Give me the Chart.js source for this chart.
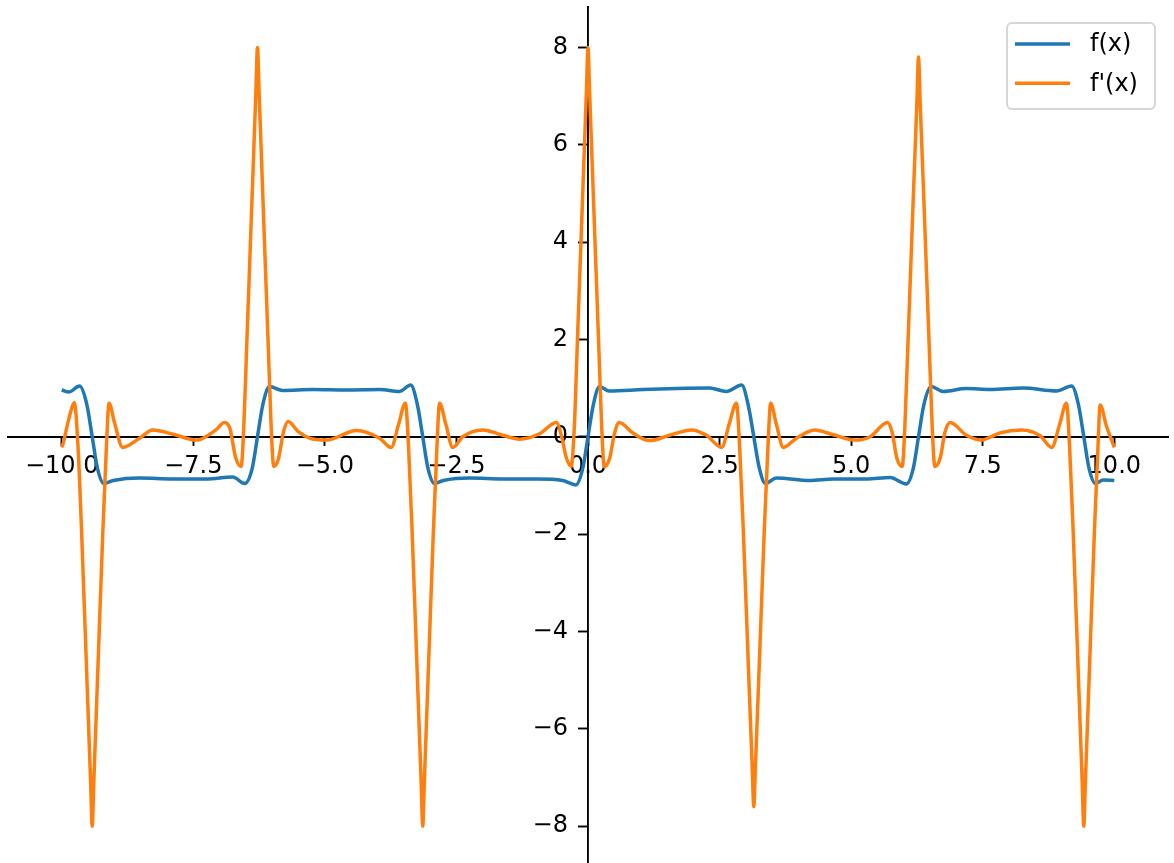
<!DOCTYPE html>
<html>
<head>
<meta charset="utf-8">
<script src="https://cdn.jsdelivr.net/npm/chart.js@4.4.0/dist/chart.umd.min.js"></script>
<style>
  html, body { margin: 0; padding: 0; background: #fff; }
  #wrap { width: 1174px; height: 863px; position: relative; }
</style>
</head>
<body>
<div id="wrap"><canvas id="plot" width="1174" height="863"></canvas></div>
<script>
// f(x)
const fX = [-10.0, -9.86, -9.66, -9.52, -9.42, -9.32, -9.20, -9.02, -8.52, -7.88, -7.25, -6.75,
  -6.52, -6.38, -6.28, -6.18, -6.05, -5.80, -5.23, -4.59, -3.96, -3.58, -3.37, -3.24,
  -3.14, -3.04, -2.92, -2.75, -2.25, -1.61, -0.98, -0.48, -0.23, -0.10, 0.0, 0.10, 0.22, 0.40,
  1.05, 1.68, 2.31, 2.63, 2.92, 3.05, 3.15, 3.25, 3.37, 3.58, 4.21, 4.66, 5.29, 5.74, 6.05,
  6.18, 6.28, 6.38, 6.52, 6.75, 7.19, 7.64, 8.27, 8.90, 9.19, 9.32, 9.42, 9.52, 9.64, 9.79, 10.0];
const fY = [0.96, 0.92, 1.04, 0.65, 0.0, -0.65, -0.96, -0.90, -0.85, -0.87, -0.87, -0.83,
  -0.96, -0.65, 0.0, 0.65, 1.03, 0.95, 0.97, 0.96, 0.97, 0.93, 1.06, 0.65,
  0.0, -0.65, -0.96, -0.90, -0.85, -0.87, -0.87, -0.90, -0.99, -0.65, 0.0, 0.65, 1.03, 0.94,
  0.97, 0.99, 1.0, 0.93, 1.06, 0.62, 0.0, -0.62, -0.96, -0.85, -0.90, -0.87, -0.87, -0.84, -0.97,
  -0.65, 0.0, 0.65, 1.03, 0.93, 0.99, 0.97, 1.0, 0.94, 1.04, 0.65, 0.0, -0.65, -0.96, -0.89, -0.90];

// f'(x)
const dfX = [-10.0, -9.97, -9.88, -9.80, -9.76, -9.69, -9.62, -9.52, -9.45, -9.42, -9.39, -9.32, -9.22,
  -9.15, -9.10, -9.0, -8.84, -8.52, -8.27, -7.88, -7.44, -7.07, -6.91, -6.81, -6.69, -6.59,
  -6.54, -6.48, -6.38, -6.31, -6.28, -6.25, -6.18, -6.08, -6.02, -5.97, -5.88, -5.79, -5.70,
  -5.50, -5.29, -4.97, -4.40, -3.96, -3.74, -3.60, -3.47,
  -3.41, -3.34, -3.24, -3.17, -3.14, -3.11, -3.04, -2.94, -2.87,
  -2.82, -2.70, -2.57, -2.38, -2.0, -1.62, -1.30, -0.92, -0.60, -0.50, -0.42, -0.32,
  -0.26, -0.20, -0.10, -0.03, 0.0, 0.03, 0.10, 0.20, 0.26,
  0.31, 0.41, 0.50, 0.59, 0.86, 1.17, 1.55, 1.97, 2.25, 2.54, 2.68, 2.82,
  2.88, 2.95, 3.05, 3.12, 3.15, 3.18, 3.25, 3.35, 3.42,
  3.47, 3.58, 3.71, 3.96, 4.31, 4.66, 5.07, 5.36, 5.69, 5.78, 5.87, 5.97,
  6.02, 6.08, 6.18, 6.25, 6.28, 6.31, 6.38, 6.48, 6.54,
  6.59, 6.69, 6.78, 6.88, 7.19, 7.48, 7.64, 7.83, 8.24, 8.59, 8.81, 8.96, 9.09,
  9.15, 9.22, 9.32, 9.39, 9.42, 9.45, 9.52, 9.62, 9.69,
  9.73, 9.85, 10.0];
const dfY = [-0.22, -0.13, 0.30, 0.62, 0.70, -0.2, -2.0, -5.0, -7.1, -8.0, -7.1, -5.0, -2.0,
  -0.2, 0.69, 0.30, -0.22, -0.03, 0.14, 0.05, -0.07, 0.14, 0.29, 0.19, -0.45, -0.61,
  0.2, 2.0, 5.0, 7.1, 8.0, 7.1, 5.0, 2.0, 0.2, -0.61, -0.45, 0.08, 0.31,
  0.10, -0.03, -0.07, 0.13, -0.03, -0.22, 0.25, 0.69,
  -0.2, -2.0, -5.0, -7.1, -8.0, -7.1, -5.0, -2.0, -0.2,
  0.69, 0.25, -0.22, 0.0, 0.14, 0.03, -0.05, 0.06, 0.29, 0.0, -0.40, -0.61,
  0.2, 2.0, 5.0, 7.1, 8.0, 7.1, 5.0, 2.0, 0.2,
  -0.62, -0.45, 0.05, 0.29, 0.07, -0.08, 0.03, 0.14, 0.03, -0.22, 0.25, 0.69,
  -0.19, -1.9, -4.8, -6.8, -7.6, -6.8, -4.8, -1.9, -0.19,
  0.69, 0.25, -0.22, -0.03, 0.14, 0.04, -0.07, 0.0, 0.29, 0.08, -0.45, -0.61,
  0.2, 1.95, 4.9, 6.9, 7.8, 6.9, 4.9, 1.95, 0.2,
  -0.61, -0.45, 0.08, 0.29, 0.03, -0.07, -0.01, 0.08, 0.14, 0.02, -0.22, 0.25, 0.69,
  -0.2, -2.0, -5.0, -7.1, -8.0, -7.1, -5.0, -2.0, -0.2,
  0.65, 0.22, -0.22];

const xTicks = [-10, -7.5, -5, -2.5, 0, 2.5, 5, 7.5, 10];
const yTicks = [-8, -6, -4, -2, 0, 2, 4, 6, 8];
const seriesLabels = ['f(x)', "f'(x)"];
const seriesColors = ['#1f77b4', '#ff7f0e'];

const minus = s => s.replace('-', '\u2212');
const tickFont = { family: 'DejaVu Sans', size: 24 };

// matplotlib-like legend box in the upper right corner
const cornerLegend = {
  id: 'cornerLegend',
  afterDraw(chart) {
    const ctx = chart.ctx;
    ctx.save();
    ctx.beginPath();
    ctx.roundRect(1007, 23, 148, 86, 5);
    ctx.fillStyle = 'rgba(255,255,255,0.8)';
    ctx.fill();
    ctx.lineWidth = 2;
    ctx.strokeStyle = 'rgba(204,204,204,0.8)';
    ctx.stroke();
    ctx.font = '24px "DejaVu Sans"';
    ctx.textBaseline = 'middle';
    chart.data.datasets.forEach((ds, i) => {
      const y = 44 + i * 39.3;
      ctx.beginPath();
      ctx.moveTo(1015, y);
      ctx.lineTo(1070, y);
      ctx.lineWidth = 3.5;
      ctx.strokeStyle = ds.borderColor;
      ctx.stroke();
      ctx.fillStyle = '#000';
      ctx.fillText(ds.label, 1090, y + 1);
    });
    ctx.restore();
  }
};

const noPad = s => { s.paddingLeft = 0; s.paddingRight = 0; s.paddingTop = 0; s.paddingBottom = 0; };

new Chart(document.getElementById('plot'), {
  type: 'line',
  data: {
    datasets: [
      { label: seriesLabels[0], data: fX.map((x, i) => ({ x, y: fY[i] })), borderColor: seriesColors[0], order: 1 },
      { label: seriesLabels[1], data: dfX.map((x, i) => ({ x, y: dfY[i] })), borderColor: seriesColors[1], order: 0 }
    ]
  },
  options: {
    responsive: false,
    animation: false,
    layout: { padding: { left: 8, right: 6, top: 7, bottom: 0 } },
    elements: {
      point: { radius: 0 },
      line: { borderWidth: 3.5, cubicInterpolationMode: 'monotone', borderJoinStyle: 'round', fill: false }
    },
    plugins: { legend: { display: false }, tooltip: { enabled: false } },
    scales: {
      x: {
        type: 'linear', min: -11.02, max: 11.02, position: { y: 0 }, z: 1,
        afterBuildTicks: s => { s.ticks = xTicks.map(v => ({ value: v })); },
        afterFit: noPad,
        grid: { drawOnChartArea: false, tickLength: 8, tickWidth: 1.9, tickColor: '#000' },
        border: { display: true, color: '#000', width: 1.9 },
        ticks: { padding: 8, color: '#000', font: tickFont, maxRotation: 0, autoSkip: false,
          callback: v => minus(v.toFixed(1)) }
      },
      y: {
        // x range is symmetric, so the centre of the plot area is x = 0
        type: 'linear', min: -8.76, max: 8.83, position: 'center', z: 1,
        afterBuildTicks: s => { s.ticks = yTicks.map(v => ({ value: v })); },
        afterFit: noPad,
        grid: { drawOnChartArea: false, tickLength: 9, tickWidth: 1.9, tickColor: '#000' },
        border: { display: true, color: '#000', width: 1.9 },
        ticks: { padding: 11, color: '#000', font: tickFont, autoSkip: false,
          callback: v => minus(String(v)) }
      }
    }
  },
  plugins: [cornerLegend]
});
</script>
</body>
</html>
